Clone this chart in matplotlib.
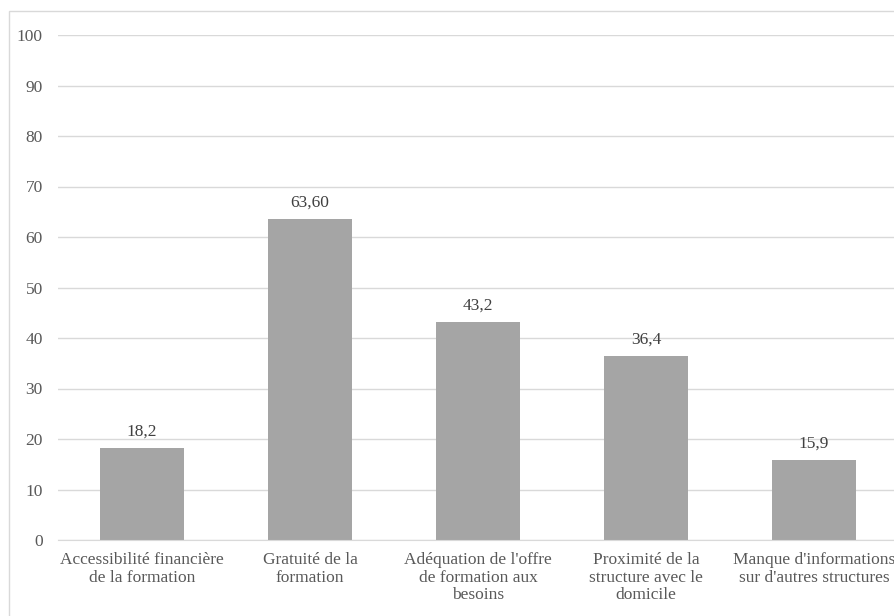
import matplotlib.pyplot as plt
from matplotlib.patches import Rectangle

plt.rcParams['font.family'] = ['Liberation Serif', 'DejaVu Serif']

categories = ["Accessibilité financière\nde la formation",
              "Gratuité de la\nformation",
              "Adéquation de l'offre\nde formation aux\nbesoins",
              "Proximité de la\nstructure avec le\ndomicile",
              "Manque d'informations\nsur d'autres structures"]
values = [18.2, 63.6, 43.2, 36.4, 15.9]
value_labels = ["18,2", "63,60", "43,2", "36,4", "15,9"]
yticks = list(range(0, 101, 10))

text_color = '#595959'
grid_color = '#D9D9D9'

fig = plt.figure(figsize=(8.95, 6.16), dpi=100)
W, H = 895, 616

# chart border (the picture is cropped on the right and bottom)
fig.patches.append(Rectangle((9 / W, -0.1), 1.2, 1 - 11 / H + 0.1, transform=fig.transFigure,
                             fill=False, edgecolor='#D9D9D9', linewidth=1))

left, right = 58, 898
top, bottom = 35, 540
ax = fig.add_axes([left / W, 1 - bottom / H, (right - left) / W, (bottom - top) / H])

x = range(len(values))
ax.bar(x, values, width=0.5, color='#A5A5A5', zorder=2)
for xi, v, lab in zip(x, values, value_labels):
    ax.annotate(lab, (xi, v), xytext=(0, 6), textcoords='offset points',
                ha='center', va='bottom', fontsize=12.5, color='#404040')

ax.set_xlim(-0.5, len(values) - 0.5)
ax.set_ylim(0, 100)
ax.set_yticks(yticks)
ax.set_yticklabels([str(t) for t in yticks], fontsize=12.5, color=text_color)
ax.set_xticks(list(x))
ax.set_xticklabels(categories, fontsize=12.5, color=text_color, linespacing=1.1)
ax.yaxis.grid(True, color=grid_color, linewidth=1, zorder=0)
ax.tick_params(axis='both', length=0)
ax.tick_params(axis='y', pad=11)
ax.tick_params(axis='x', pad=9)
for s in ['top', 'right', 'left']:
    ax.spines[s].set_visible(False)
ax.spines['bottom'].set_color(grid_color)

fig.savefig('out.png', dpi=100)
